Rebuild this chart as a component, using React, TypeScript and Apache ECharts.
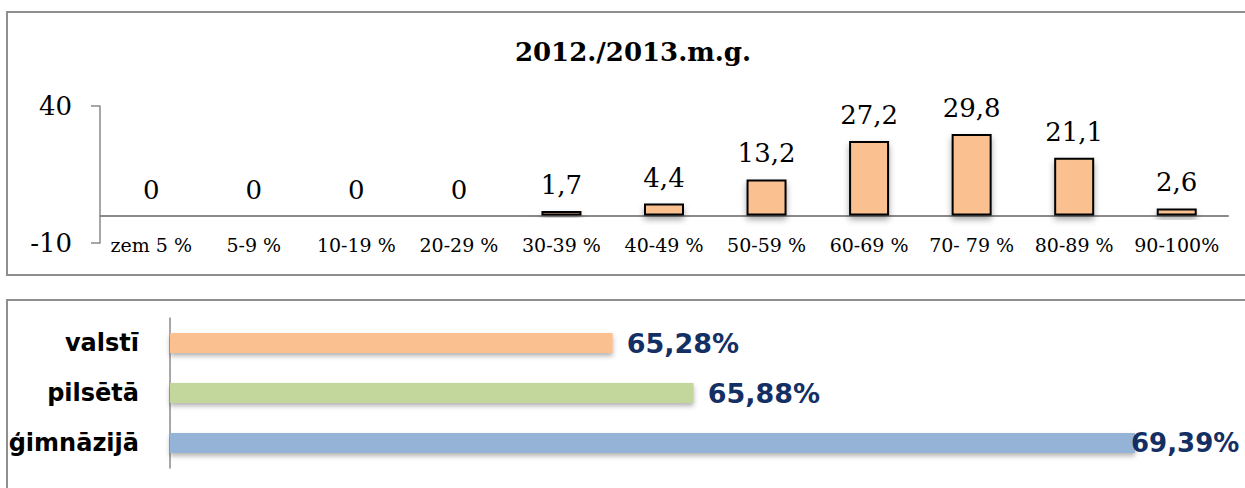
import React, { useEffect, useRef } from "react";
import * as echarts from "echarts";

const chartTitle = "2012./2013.m.g.";
const categories = ["zem 5 %", "5-9 %", "10-19 %", "20-29 %", "30-39 %", "40-49 %", "50-59 %", "60-69 %", "70- 79 %", "80-89 %", "90-100%"];
const values = [0, 0, 0, 0, 1.7, 4.4, 13.2, 27.2, 29.8, 21.1, 2.6];
const yTickValues = [-10, 40];

const groups = ["valstī", "pilsētā", "ģimnāzijā"];
const groupValues = [65.28, 65.88, 69.39];
const groupColors = ["#FAC090", "#C3D69B", "#95B3D7"];

const fmtComma = (v: number) => String(v).replace(".", ",");

export default function App() {
  const ref = useRef<HTMLDivElement>(null);
  useEffect(() => {
    if (!ref.current) return;
    const chart = echarts.init(ref.current, undefined, { renderer: "svg" });
    const barData = values.map((v) =>
      v === 0
        ? { value: v, itemStyle: { borderWidth: 0, shadowBlur: 0, shadowOffsetY: 0 } }
        : { value: v }
    );
    const hData = groupValues.map((v, i) => ({
      value: v,
      itemStyle: { color: groupColors[i] },
      label: i === groupValues.length - 1 ? { distance: -4, fontSize: 26 } : undefined,
    }));
    chart.setOption({
      animation: false,
      backgroundColor: "#ffffff",
      graphic: [
        {
          type: "rect",
          shape: { x: 7, y: 12, width: 1300, height: 263 },
          style: { fill: "none", stroke: "#8f8f8f", lineWidth: 2 },
          z: 0,
        },
        {
          type: "rect",
          shape: { x: 7, y: 300, width: 1300, height: 250 },
          style: { fill: "none", stroke: "#8f8f8f", lineWidth: 2 },
          z: 0,
        },
        {
          type: "text",
          x: 633,
          y: 52,
          style: {
            text: chartTitle,
            font: "bold 26px 'DejaVu Serif'",
            fill: "#000000",
            textAlign: "center",
            textVerticalAlign: "middle",
          },
        },
      ],
      grid: [
        { left: 100, top: 106, width: 1128, height: 137 },
        { left: 170, top: 318, width: 965, height: 150 },
      ],
      xAxis: [
        {
          type: "category",
          gridIndex: 0,
          data: categories,
          axisLine: { onZero: true, lineStyle: { color: "#8a8a8a", width: 2 } },
          axisTick: { show: false },
          axisLabel: {
            margin: -8,
            color: "#000000",
            fontFamily: "DejaVu Serif",
            fontSize: 19,
            interval: 0,
          },
        },
        {
          type: "value",
          gridIndex: 1,
          min: 62,
          max: 69.15,
          show: false,
          splitLine: { show: false },
        },
      ],
      yAxis: [
        {
          type: "value",
          gridIndex: 0,
          min: -10,
          max: 40,
          axisLine: { show: true, lineStyle: { color: "#8a8a8a", width: 1.5 } },
          axisTick: { show: true, length: 9, customValues: yTickValues, lineStyle: { color: "#8a8a8a", width: 1.5 } },
          axisLabel: {
            customValues: yTickValues,
            margin: 28,
            color: "#000000",
            fontFamily: "DejaVu Serif",
            fontSize: 26,
          },
          splitLine: { show: false },
        },
        {
          type: "category",
          gridIndex: 1,
          data: groups,
          inverse: true,
          axisLine: { show: true, lineStyle: { color: "#8a8a8a", width: 1.5 } },
          axisTick: { show: false },
          axisLabel: {
            margin: 31,
            color: "#000000",
            fontFamily: "DejaVu Sans",
            fontWeight: "bold",
            fontSize: 24,
          },
        },
      ],
      series: [
        {
          type: "bar",
          xAxisIndex: 0,
          yAxisIndex: 0,
          data: barData,
          barWidth: 40,
          itemStyle: {
            color: "#FAC090",
            borderColor: "#000000",
            borderWidth: 2,
            shadowColor: "rgba(0,0,0,0.35)",
            shadowBlur: 6,
            shadowOffsetY: 4,
          },
          label: {
            show: true,
            position: "top",
            distance: 13,
            color: "#000000",
            fontFamily: "DejaVu Serif",
            fontSize: 26,
            formatter: (p: any) => fmtComma(p.value),
          },
        },
        {
          type: "bar",
          xAxisIndex: 1,
          yAxisIndex: 1,
          data: hData,
          barWidth: 20,
          clip: true,
          itemStyle: {
            shadowColor: "rgba(0,0,0,0.3)",
            shadowBlur: 5,
            shadowOffsetY: 3,
          },
          label: {
            show: true,
            position: "right",
            distance: 14,
            color: "#142F63",
            fontFamily: "DejaVu Sans",
            fontWeight: "bold",
            fontSize: 27,
            formatter: (p: any) => p.value.toFixed(2).replace(".", ",") + "%",
          },
        },
      ],
    });
    return () => chart.dispose();
  }, []);
  return (
    <div
      ref={ref}
      style={{ position: "fixed", left: 0, top: 0, width: 1245, height: 488, background: "#fff" }}
    />
  );
}
